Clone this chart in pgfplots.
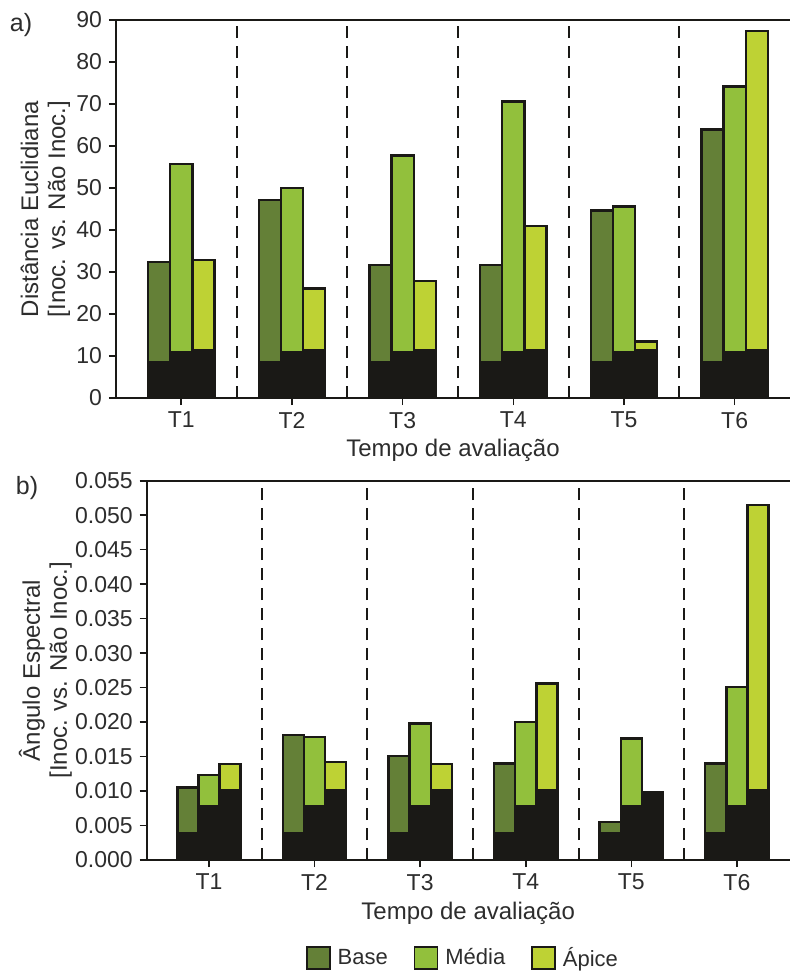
\documentclass[border=0pt]{standalone}
\usepackage{fontspec}
\setmainfont{Liberation Sans}
\usepackage{pgfplots}
\pgfplotsset{compat=1.18}
\definecolor{cbase}{RGB}{100,128,55}
\definecolor{cmedia}{RGB}{146,192,60}
\definecolor{capice}{RGB}{190,210,52}
\definecolor{cblk}{RGB}{26,25,22}
\definecolor{ctxt}{RGB}{45,45,45}
\pgfplotsset{
 mystyle/.style={
  scale only axis,
  xmin=0.41, xmax=6.5,
  axis x line=box, axis y line=left,
  y axis line style={-},
  axis line style={line width=1pt, cblk},
  xtick={1,2,3,4,5,6},
  xticklabels={T1,T2,T3,T4,T5,T6},
  xtick pos=left, ytick pos=left,
  tick align=outside,
  major tick length=3.5pt,
  tick style={line width=0.8pt, cblk},
  extra x ticks={1.5,2.5,3.5,4.5,5.5},
  extra x tick labels={},
  extra x tick style={grid=major, tick style={draw=none}, major grid style={cblk, line width=1pt, dash pattern=on 6pt off 4pt}},
  ticklabel style={font=\fontsize{11.5}{13.5}\selectfont, text=ctxt},
  label style={font=\fontsize{12}{14}\selectfont, text=ctxt},
  /pgf/number format/assume math mode=true,
 },
 leg/.style={legend image code/.code={\draw[##1, line width=0.8pt] (0pt,-5.5pt) rectangle (11.5pt,5.5pt);}},
 bA/.style={ybar, bar width=0.2, bar shift=-0.2, draw=cblk, line width=1.2pt},
 bB/.style={ybar, bar width=0.2, bar shift=0, draw=cblk, line width=1.2pt},
 bC/.style={ybar, bar width=0.2, bar shift=0.2, draw=cblk, line width=1.2pt},
}
\begin{document}
\begin{tikzpicture}
\useasboundingbox (0,0) rectangle (395.5pt,-486pt);
\node[font=\fontsize{12.5}{14}\selectfont, text=ctxt] at (10.5pt,-12.5pt) {a)};
\node[font=\fontsize{12.5}{14}\selectfont, text=ctxt] at (13.5pt,-244pt) {b)};
\begin{axis}[mystyle,
  at={(58pt,-199pt)}, anchor=south west,
  width=337pt, height=189pt,
  ymin=0, ymax=90, ytick={0,10,20,30,40,50,60,70,80,90},
  xlabel={Tempo de avaliação},
  xlabel style={at={(axis description cs:0.5,-0.1376)}, anchor=center},
  ylabel={Distância Euclidiana\\[-0.5pt]{[}Inoc. vs. Não Inoc.]},
  ylabel style={align=center, at={(axis description cs:-0.1046,0.5)}, anchor=center},
]
\addplot[bA, fill=cbase] coordinates {(1,32.4) (2,47.1) (3,31.7) (4,31.7) (5,44.6) (6,63.9)};
\addplot[bA, fill=cblk, forget plot] coordinates {(1,8.5) (2,8.5) (3,8.5) (4,8.5) (5,8.5) (6,8.5)};
\addplot[bB, fill=cmedia] coordinates {(1,55.7) (2,50.0) (3,57.7) (4,70.6) (5,45.6) (6,74.2)};
\addplot[bB, fill=cblk, forget plot] coordinates {(1,10.8) (2,10.8) (3,10.8) (4,10.8) (5,10.8) (6,10.8)};
\addplot[bC, fill=capice] coordinates {(1,32.8) (2,26.1) (3,27.8) (4,40.9) (5,13.5) (6,87.4)};
\addplot[bC, fill=cblk, forget plot] coordinates {(1,11.4) (2,11.4) (3,11.4) (4,11.4) (5,11.4) (6,11.4)};
\end{axis}
\begin{axis}[mystyle,
  at={(73.35pt,-430pt)}, anchor=south west,
  width=321.5pt, height=189.65pt,
  ymin=0, ymax=0.055,
  ytick={0,0.005,0.010,0.015,0.020,0.025,0.030,0.035,0.040,0.045,0.050,0.055},
  scaled y ticks=false,
  yticklabel style={/pgf/number format/.cd, fixed, fixed zerofill, precision=3},
  xlabel={Tempo de avaliação},
  xlabel style={at={(axis description cs:0.5,-0.14)}, anchor=center},
  ylabel={Ângulo Espectral\\[-0.5pt]{[}Inoc. vs. Não Inoc.]},
  ylabel style={align=center, at={(axis description cs:-0.1574,0.5)}, anchor=center},
  legend style={at={(axis description cs:0.4935,-0.2586)}, anchor=center, draw=none, fill=none,
    legend columns=3, font=\fontsize{11}{13}\selectfont, text=ctxt,
    /tikz/every even column/.append style={column sep=11pt},
    /tikz/every odd column/.append style={column sep=1.5pt}},
]
\addplot[bA, fill=cbase, leg] coordinates {(1,0.0105) (2,0.0181) (3,0.0151) (4,0.0140) (5,0.0055) (6,0.0140)};
\addlegendentry{Base}
\addplot[bA, fill=cblk, forget plot] coordinates {(1,0.0039) (2,0.0039) (3,0.0039) (4,0.0039) (5,0.0039) (6,0.0039)};
\addplot[bB, fill=cmedia, leg] coordinates {(1,0.0123) (2,0.0178) (3,0.0198) (4,0.0200) (5,0.0176) (6,0.0251)};
\addlegendentry{Média}
\addplot[bB, fill=cblk, forget plot] coordinates {(1,0.0078) (2,0.0078) (3,0.0078) (4,0.0078) (5,0.0078) (6,0.0078)};
\addplot[bC, fill=capice, leg] coordinates {(1,0.0139) (2,0.0142) (3,0.0139) (4,0.0256) (5,0.0098) (6,0.0515)};
\addlegendentry{Ápice}
\addplot[bC, fill=cblk, forget plot] coordinates {(1,0.0101) (2,0.0101) (3,0.0101) (4,0.0101) (5,0.0098) (6,0.0101)};
\end{axis}
\end{tikzpicture}
\end{document}
